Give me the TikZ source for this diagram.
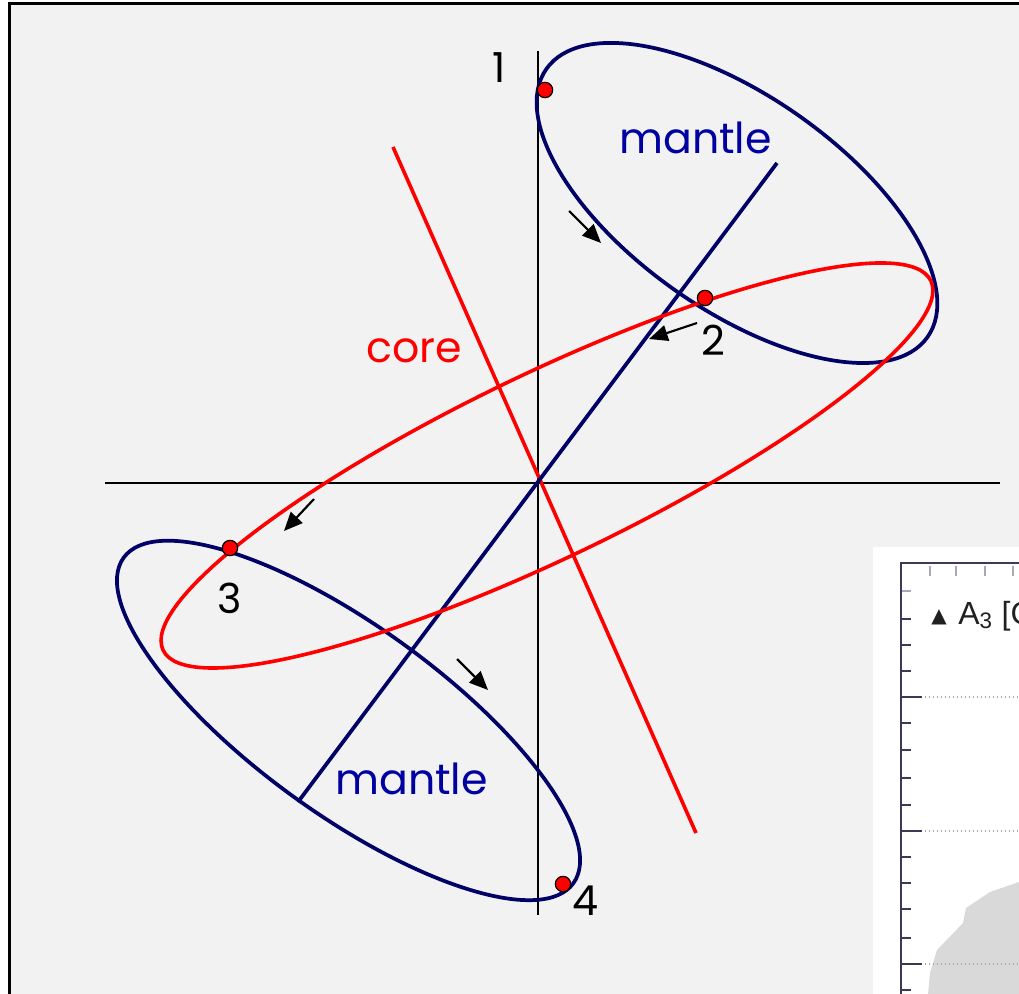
\documentclass[tikz,border=0pt]{standalone}
\usepackage{fontspec}
\setmainfont{Poppins}
\newfontfamily\symfont{DejaVu Sans}
\newfontfamily\plotfont{Liberation Sans}
\usetikzlibrary{arrows.meta}
\definecolor{bg}{HTML}{F2F2F2}
\definecolor{navy}{HTML}{000066}
\definecolor{mantleblue}{HTML}{0000A0}
\definecolor{plotaxis}{HTML}{3A3A55}
\definecolor{plottick}{HTML}{A8A8B8}
\definecolor{plotshade}{HTML}{D9D9D9}
\definecolor{plottext}{HTML}{202020}
\tikzset{
  axisline/.style={black, line width=1.6pt},
  coreline/.style={red, line width=2.7pt},
  mantleline/.style={navy, line width=2.8pt},
  motion/.style={black, line width=1.6pt, -{Triangle[length=14pt,width=12pt]}},
  dotmark/.style={circle, fill=red, draw=black, line width=0.9pt, inner sep=0pt, minimum size=11.5pt},
  numlabel/.style={black, font=\fontsize{31}{36}\selectfont, inner sep=0pt},
  mantlelabel/.style={mantleblue, font=\fontsize{32}{38}\selectfont, inner sep=0pt, anchor=base},
  corelabel/.style={red, font=\fontsize{32}{38}\selectfont, inner sep=0pt, anchor=base},
}
\begin{document}
\begin{tikzpicture}[x=0.75pt,y=-0.75pt]
\useasboundingbox (0,0) rectangle (1019,994);
\fill[white] (0,0) rectangle (1019,994);
\fill[bg] (9.5,3.5) rectangle (1019,994);
\draw[line width=2.6pt] (9.5,994) -- (9.5,3.5) -- (1019,3.5);

% inset plot (cut off at the page edge)
\begin{scope}
\clip (0,0) rectangle (1019,994);
\fill[white] (873,547) rectangle (1030,1000);
\fill[plotshade] (928,994) -- (930,973) -- (937,950) -- (963,923) -- (966,908) -- (990,892) -- (1019,882) -- (1019,994) -- cycle;
\foreach \yy in {697,831,964} {
  \draw[plottick, line width=1pt, dotted] (925,\yy) -- (1019,\yy);
  \draw[plotaxis, line width=1.4pt] (901,\yy) -- (922,\yy);
}
\foreach \yy in {619,645,671,723,750,778,805,857,883,909,938,990} {
  \draw[plotaxis, line width=1.2pt] (901,\yy) -- (911,\yy);
}
\draw[plottick, line width=1.2pt] (901,591) -- (911,591);
\foreach \xx in {930,956,985,1013} {
  \draw[plottick, line width=1.4pt] (\xx,566) -- (\xx,576);
}
\draw[plotaxis, line width=1.6pt] (901,1000) -- (901,563) -- (1030,563);
\node[plottext, font=\symfont\fontsize{15}{17}\selectfont, inner sep=0pt] (legtri) at (939,617) {▲};
\node[plottext, font=\plotfont\fontsize{24}{27}\selectfont, inner sep=0pt, anchor=base west] (legtxt) at (958,624) {A\textsubscript{3} [G};
\end{scope}

% axes
\coordinate (vtop) at (538,51);
\coordinate (vbot) at (538,915);
\coordinate (hl) at (105,483);
\coordinate (hr) at (1000,483);
\draw[axisline] (vtop) -- (vbot);
\draw[axisline] (hl) -- (hr);

% core axis and mantle axis
\coordinate (ctop) at (393,147);
\coordinate (cbot) at (696,833);
\coordinate (mtop) at (777,163);
\coordinate (mbot) at (298,802);
\draw[coreline] (ctop) -- (cbot);
\draw[mantleline] (mtop) -- (mbot);

% ellipses
\coordinate (cc) at (547,465.5);
\coordinate (mu) at (737,203);
\coordinate (ml) at (348.5,720.5);
\draw[mantleline, rotate around={-35.1:(mu)}] (mu) ellipse [x radius=233, y radius=107];
\draw[mantleline, rotate around={-35.9:(ml)}] (ml) ellipse [x radius=277.6, y radius=94];
\draw[coreline, rotate around={25.7:(cc)}] (cc) ellipse [x radius=426, y radius=92];

% motion arrows
\coordinate (a1s) at (569,211); \coordinate (a1e) at (601,243);
\coordinate (a2s) at (697,323); \coordinate (a2e) at (649,339);
\coordinate (a3s) at (314,499); \coordinate (a3e) at (284,531);
\coordinate (a4s) at (457,659); \coordinate (a4e) at (488,690);
\draw[motion] (a1s) -- (a1e);
\draw[motion] (a2s) -- (a2e);
\draw[motion] (a3s) -- (a3e);
\draw[motion] (a4s) -- (a4e);

% points
\node[dotmark] (p1) at (545,90) {};
\node[dotmark] (p2) at (705,298) {};
\node[dotmark] (p3) at (230,548) {};
\node[dotmark] (p4) at (563,884) {};

% labels
\node[numlabel] (n1) at (499,68) {1};
\node[numlabel] (n2) at (713,340) {2};
\node[numlabel] (n3) at (230,598) {3};
\node[numlabel] (n4) at (585,901) {4};
\node[mantlelabel] (mant1) at (695.5,154) {mantle};
\node[corelabel] (core) at (414,362) {core};
\node[mantlelabel] (mant2) at (411.5,794) {mantle};
\end{tikzpicture}
\end{document}
